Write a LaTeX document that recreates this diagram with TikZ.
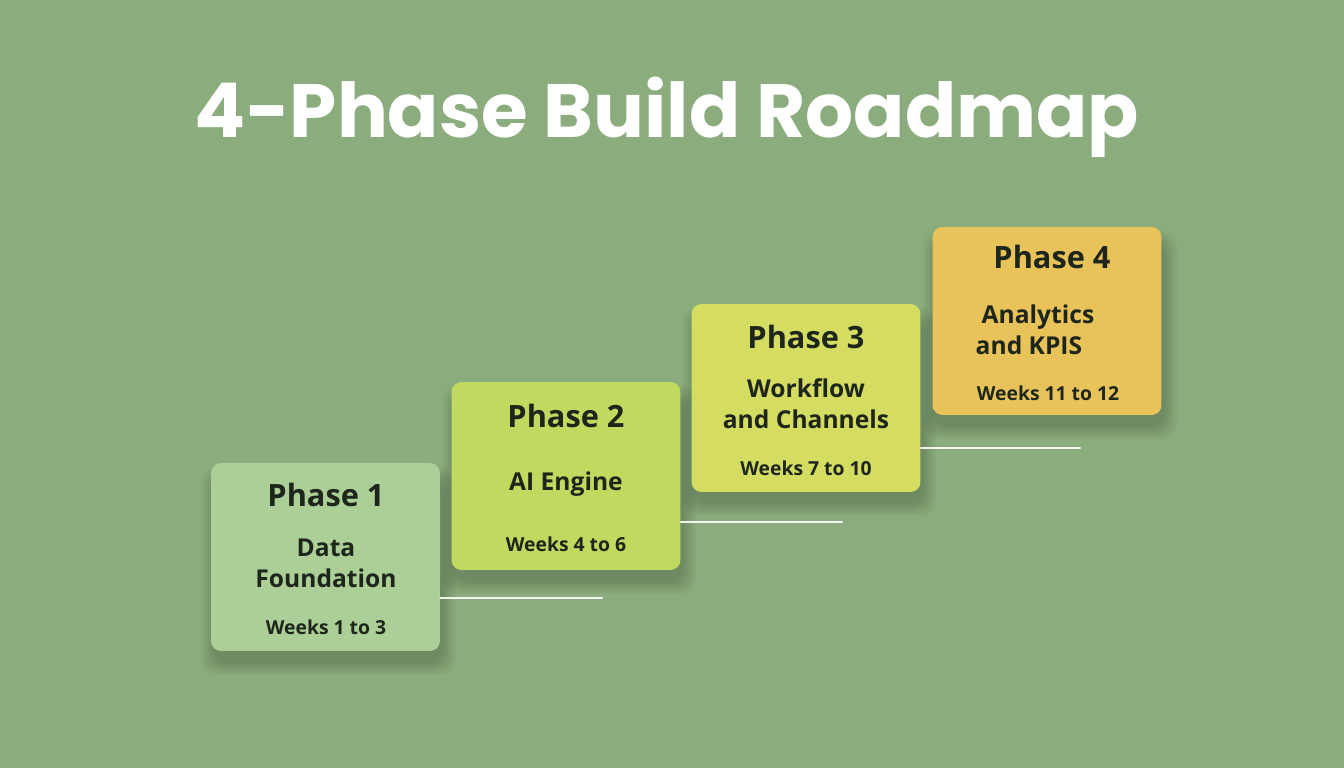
\documentclass[tikz,border=0pt]{standalone}
\usepackage{fontspec}
\setmainfont{Open Sans}
\newfontfamily\titlefont{Poppins}

\definecolor{bggreen}{HTML}{8BAD7D}
\definecolor{phaseone}{HTML}{ABCF97}
\definecolor{phasetwo}{HTML}{C0DA5F}
\definecolor{phasethree}{HTML}{D5DC62}
\definecolor{phasefour}{HTML}{E8C35A}
\definecolor{inkdark}{HTML}{1E261C}
\definecolor{steplinecol}{HTML}{F2F5EE}

\begin{document}
\begin{tikzpicture}[
	x=0.02cm,
	y=-0.02cm,
	line cap=round,
	line join=round,
	every node/.style={text=inkdark, font=\bfseries},
	phasebox/.style={rounded corners=0.2cm, minimum width=4.58cm, minimum height=3.76cm},
	phasehead/.style={font=\bfseries\fontsize{17.5}{21}\selectfont},
	phasename/.style={font=\bfseries\fontsize{14}{17.5}\selectfont, align=center},
	phaseweeks/.style={font=\bfseries\fontsize{11}{14}\selectfont},
	stepline/.style={draw=steplinecol, line width=1.3pt}
	]
	% background and page frame
	\fill[bggreen] (0,0) rectangle (1344,768);
	
	% title
	\node[text=white, font=\titlefont\bfseries\fontsize{43}{50}\selectfont] (title)
	at (667,117) {4-Phase Build Roadmap};
	
	% soft shadows under the boxes
	\foreach \cx/\cy in {325.5/557,566/476,806/398,1047/321}
	\foreach \s in {0,2,...,12}
	\fill[black, opacity=0.028, rounded corners=0.3cm]
	(\cx-112-\s,\cy-90-\s+12) rectangle (\cx+118+\s,\cy+94+\s+12);
	
	% connector ends
	\coordinate (e1) at (602,598);
	\coordinate (e2) at (842,522);
	\coordinate (e3) at (1080,448);
	
	% the four phases
	\node[phasebox, fill=phaseone] (p1) at (325.5,557) {};
	\node[phasebox, fill=phasetwo] (p2) at (566,476) {};
	\node[phasebox, fill=phasethree] (p3) at (806,398) {};
	\node[phasebox, fill=phasefour] (p4) at (1047,321) {};
	
	\draw[stepline] (p1.east |- e1) -- (e1);
	\draw[stepline] (p2.east |- e2) -- (e2);
	\draw[stepline] (p3.east |- e3) -- (e3);
	
	\node[phasehead] (h1) at (326,495) {Phase 1};
	\node[phasename] (n1) at (326,563) {Data\\Foundation};
	\node[phaseweeks] (w1) at (326,627) {Weeks 1 to 3};
	
	\node[phasehead] (h2) at (566,416) {Phase 2};
	\node[phasename] (n2) at (566,484) {AI Engine};
	\node[phaseweeks] (w2) at (566,544) {Weeks 4 to 6};
	
	\node[phasehead] (h3) at (806,337) {Phase 3};
	\node[phasename] (n3) at (806,404) {Workflow\\and Channels};
	\node[phaseweeks] (w3) at (806,468) {Weeks 7 to 10};
	
	\node[phasehead] (h4) at (1052,257) {Phase 4};
	\node[phasename, align=left] (n4) at (1035,330) {\hspace*{0.12cm}Analytics\\and KPIS};
	\node[phaseweeks] (w4) at (1048,393) {Weeks 11 to 12};
\end{tikzpicture}
\end{document}
